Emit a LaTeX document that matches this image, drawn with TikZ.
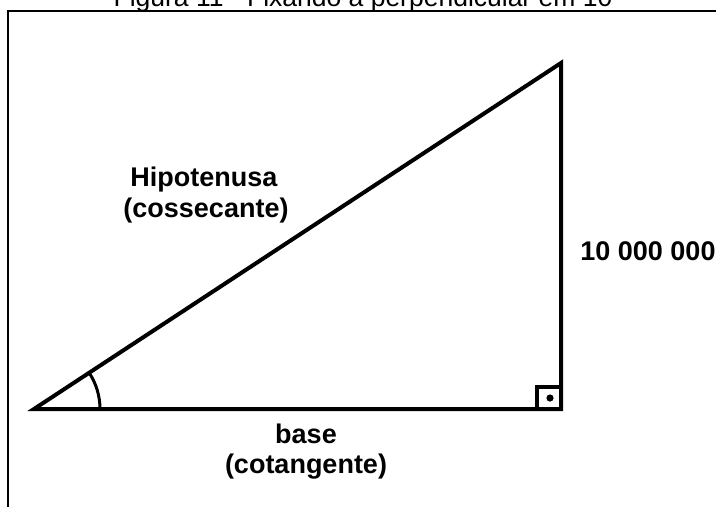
\documentclass[tikz,border=0pt]{standalone}
\usepackage{fontspec}
\setmainfont{Liberation Sans}
\begin{document}
\begin{tikzpicture}[x=1pt,y=-1pt,
  lbl/.style={inner sep=0pt,anchor=base,font=\fontsize{27}{31}\selectfont\bfseries},
  ttl/.style={inner sep=0pt,anchor=base,font=\fontsize{26.5}{31}\selectfont},
  side/.style={line width=4pt,line join=miter},
  frameline/.style={line width=1.6pt}]
\useasboundingbox (0,0) rectangle (716,507);
% frame
\coordinate (FTL) at (8,11);
\coordinate (FTR) at (716,11);
\coordinate (FBL) at (8,507);
\draw[frameline] (FTR) -- (FTL) -- (FBL);
% title
\node[ttl] (title) at (363,6) {Figura 11 - Fixando a perpendicular em 10};
% triangle
\coordinate (A) at (34,409);
\coordinate (B) at (561,409);
\coordinate (C) at (561,63);
\draw[side] (A) -- (B) -- (C) -- cycle;
% right angle box
\coordinate (R1) at (537,409);
\coordinate (R2) at (537,387);
\coordinate (R3) at (561,387);
\draw[line width=3.5pt] (R1) -- (R2) -- (R3);
\fill (550,398) circle (3.6pt);
% angle arc
\draw[line width=3pt] ([shift={(0:66)}]A) arc[start angle=0,end angle=-33.3,radius=66];
% labels
\node[lbl] (hyp1) at (204,186) {Hipotenusa};
\node[lbl] (hyp2) at (206,217) {(cossecante)};
\node[lbl] (perp) at (648,260) {10 000 000};
\node[lbl] (base1) at (306,443) {base};
\node[lbl] (base2) at (306,473) {(cotangente)};
\end{tikzpicture}
\end{document}
